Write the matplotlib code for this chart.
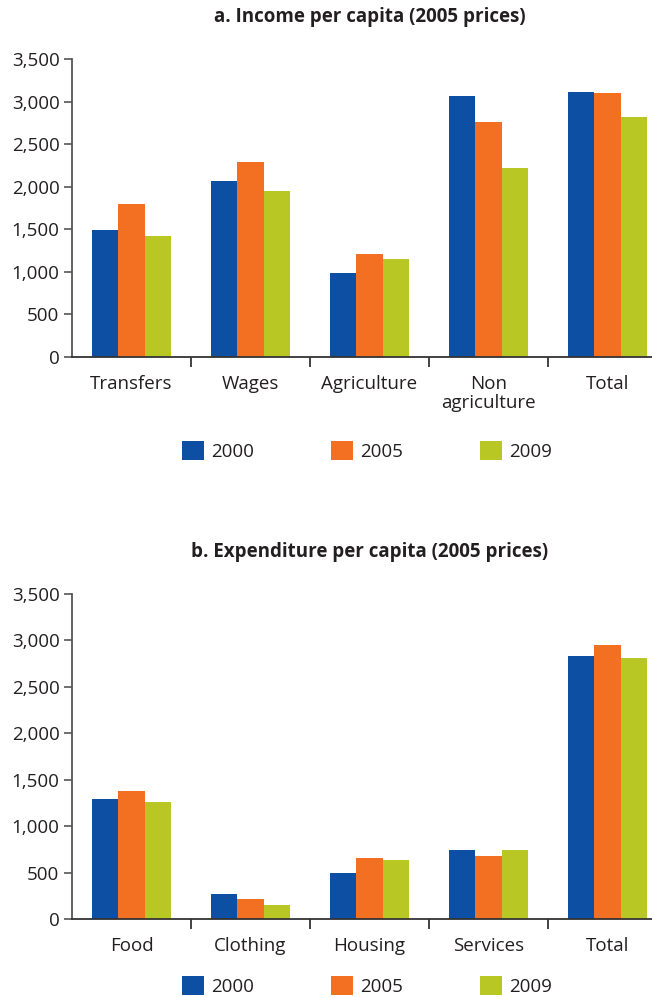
import numpy as np
import matplotlib
matplotlib.use("Agg")
import matplotlib.pyplot as plt
from matplotlib.patches import Patch
from matplotlib.ticker import FuncFormatter, FixedLocator

# ---- data ----
years = ["2000", "2005", "2009"]

income_cats = ["Transfers", "Wages", "Agriculture", "Non\nagriculture", "Total"]
income_2000 = [1490, 2070, 985, 3060, 3115]
income_2005 = [1800, 2285, 1210, 2760, 3095]
income_2009 = [1420, 1955, 1150, 2215, 2815]

exp_cats = ["Food", "Clothing", "Housing", "Services", "Total"]
exp_2000 = [1295, 272, 498, 745, 2830]
exp_2005 = [1380, 218, 660, 682, 2950]
exp_2009 = [1262, 155, 638, 745, 2810]

y_ticks = [0, 500, 1000, 1500, 2000, 2500, 3000, 3500]

# ---- style ----
COLORS = ["#0D4FA2", "#F36F21", "#B9C725"]
TXT = "#231F20"
AX_COL = "#555555"
plt.rcParams["font.family"] = ["Open Sans", "DejaVu Sans"]

W, H = 652, 997
fig = plt.figure(figsize=(W / 100, H / 100), dpi=100)


def px_axes(left, top, right, bottom):
    return fig.add_axes([left / W, 1 - bottom / H, (right - left) / W, (bottom - top) / H])


def draw_panel(ax, cats, series, title):
    x = np.arange(len(cats))
    bw = 0.223
    for i, vals in enumerate(series):
        ax.bar(x + (i - 1) * bw, vals, width=bw, color=COLORS[i], linewidth=0, zorder=2)
    ax.set_xlim(-0.5, len(cats) - 0.5)
    ax.set_ylim(0, 3500)
    ax.yaxis.set_major_locator(FixedLocator(y_ticks))
    ax.yaxis.set_major_formatter(FuncFormatter(lambda v, p: f"{int(v):,}"))
    ax.set_xticks(x)
    ax.set_xticklabels(cats, fontsize=13.5, color=TXT, linespacing=1.1)
    ax.set_xticks(np.arange(0.5, len(cats) - 1), minor=True)
    ax.tick_params(axis="x", which="major", length=0, pad=13)
    ax.tick_params(axis="x", which="minor", length=7, width=1.2, color="#222222", direction="out")
    ax.tick_params(axis="y", length=6, width=1.2, color=AX_COL, labelsize=13.5, labelcolor=TXT, pad=3)
    for s in ["top", "right"]:
        ax.spines[s].set_visible(False)
    ax.spines["left"].set_color(AX_COL)
    ax.spines["left"].set_linewidth(1.3)
    ax.spines["bottom"].set_color("#333333")
    ax.spines["bottom"].set_linewidth(1.3)
    ax.set_title(title, fontsize=13.5, fontweight="bold", color=TXT, pad=27)


ax1 = px_axes(72, 59, 667, 357)
draw_panel(ax1, income_cats, [income_2000, income_2005, income_2009],
           "a. Income per capita (2005 prices)")

ax2 = px_axes(72, 594, 667, 919)
draw_panel(ax2, exp_cats, [exp_2000, exp_2005, exp_2009],
           "b. Expenditure per capita (2005 prices)")

handles = [Patch(facecolor=c, edgecolor="none", label=y) for c, y in zip(COLORS, years)]
for yc in (451, 986):
    fig.legend(handles=handles, loc="center", bbox_to_anchor=(367 / W, 1 - yc / H),
               ncol=3, frameon=False, fontsize=13.5, handlelength=1.17, handleheight=1.17,
               handletextpad=0.4, columnspacing=4.1, labelcolor=TXT)

fig.savefig("out.png", dpi=100)
